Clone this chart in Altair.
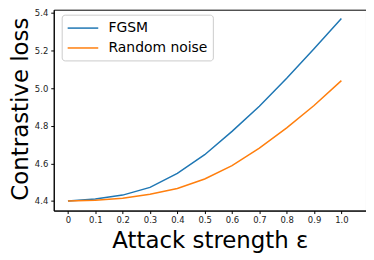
import altair as alt
import pandas as pd

eps = [0.0, 0.1, 0.2, 0.3, 0.4, 0.5, 0.6, 0.7, 0.8, 0.9, 1.0]
fgsm = [4.400, 4.410, 4.431, 4.472, 4.547, 4.646, 4.770, 4.904, 5.053, 5.210, 5.370]
noise = [4.400, 4.404, 4.414, 4.435, 4.466, 4.517, 4.588, 4.681, 4.789, 4.908, 5.040]
series = ["FGSM", "Random noise"]
x_ticks = [0.0, 0.1, 0.2, 0.3, 0.4, 0.5, 0.6, 0.7, 0.8, 0.9, 1.0]
y_ticks = [4.4, 4.6, 4.8, 5.0, 5.2, 5.4]

rows = []
for e, a, b in zip(eps, fgsm, noise):
    rows.append({"eps": e, "loss": a, "method": series[0]})
    rows.append({"eps": e, "loss": b, "method": series[1]})
df = pd.DataFrame(rows)

FONT = "DejaVu Sans"

chart = alt.Chart(df).mark_line(strokeWidth=1.5, clip=True).encode(
    x=alt.X("eps:Q",
            scale=alt.Scale(domain=[-0.052, 1.09], nice=False, zero=False),
            axis=alt.Axis(values=x_ticks,
                          labelExpr="datum.value == 0 ? '0' : format(datum.value, '.1f')",
                          title="Attack strength ε",
                          titleFontSize=23, titleFontWeight="normal",
                          titleX=157, titleY=37, titleBaseline="alphabetic",
                          titleAlign="center",
                          grid=False, tickSize=3, labelPadding=2,
                          labelFontSize=8.5, labelFlush=False)),
    y=alt.Y("loss:Q",
            scale=alt.Scale(domain=[4.3487, 5.4175], nice=False, zero=False),
            axis=alt.Axis(values=y_ticks, format=".1f",
                          title="Contrastive loss",
                          titleFontSize=23, titleFontWeight="normal",
                          titleX=-26, titleY=99.5, titleBaseline="alphabetic",
                          titleAlign="center", titleAngle=-90,
                          grid=False, tickSize=3, labelPadding=3,
                          labelFontSize=8.5, labelFlush=False)),
    color=alt.Color("method:N",
                    scale=alt.Scale(domain=series, range=["#1f77b4", "#ff7f0e"]),
                    legend=alt.Legend(title=None, orient="none",
                                      legendX=8, legendY=5,
                                      symbolType="M-1,0H3.1", symbolSize=225,
                                      symbolStrokeWidth=1.5,
                                      labelFontSize=14, labelColor="black",
                                      labelOffset=25, padding=5, rowPadding=4,
                                      strokeColor="#cccccc", fillColor="white",
                                      cornerRadius=3)),
).properties(
    width=314, height=202,
    autosize=alt.AutoSizeParams(type="none"),
    padding={"left": 46, "top": 1, "right": 0, "bottom": 49},
).configure(
    font=FONT,
).configure_axis(
    labelFont=FONT, titleFont=FONT, labelColor="#222222", titleColor="black",
    domainColor="black", tickColor="black", domainWidth=1,
).configure_legend(
    labelFont=FONT,
).configure_view(
    stroke="black", strokeWidth=1,
)

chart.save("out.html", embed_options={"renderer": "svg", "actions": False})
